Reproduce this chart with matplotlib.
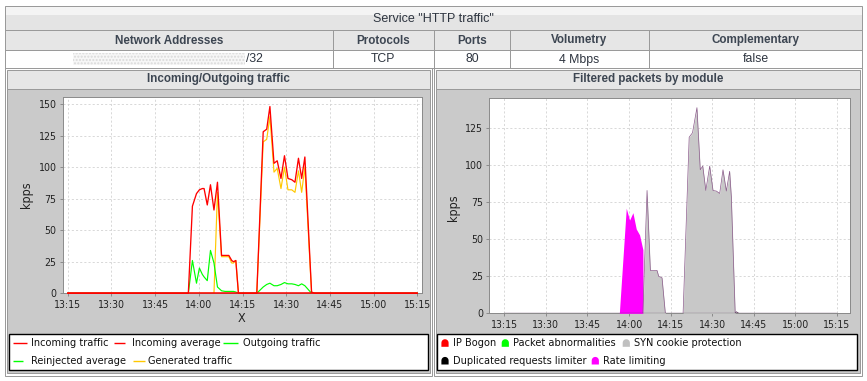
import numpy as np
import matplotlib
matplotlib.use('Agg')
import matplotlib.pyplot as plt
from matplotlib.patches import Rectangle, PathPatch
from matplotlib.path import Path
from matplotlib import font_manager as fm

# ---------------- data ----------------
title = 'Service "HTTP traffic"'
table_headers = ["Network Addresses", "Protocols", "Ports", "Volumetry", "Complementary"]
table_values = ["/32", "TCP", "80", "4 Mbps", "false"]
panel_titles = ["Incoming/Outgoing traffic", "Filtered packets by module"]

tick_minutes = [0, 15, 30, 45, 60, 75, 90, 105, 120]
tick_labels = ["13:15", "13:30", "13:45", "14:00", "14:15", "14:30", "14:45", "15:00", "15:15"]
left_yticks = [0, 25, 50, 75, 100, 125, 150]
right_yticks = [0, 25, 50, 75, 100, 125]

# left chart: minutes after 13:15
io_minutes = [0, 41.4, 42.8, 44.2, 45.2, 46.2, 46.8, 47.9, 49.0, 50.2, 51.4, 52.8, 54.0,
              55.3, 56.3, 56.9, 57.7, 58.6, 64.9, 67.1, 68.3, 69.4, 70.8, 71.9, 73.2,
              74.4, 75.6, 76.9, 78.0, 79.2, 80.3, 81.4, 83.7, 84.8, 120]
incoming_traffic = [0, 0, 69, 79, 82, 83, 83, 70, 86, 66, 88, 30, 30,
                    30, 26, 25, 26, 0, 0, 128, 130, 148, 103, 105, 91,
                    109, 91, 90, 88, 107, 91, 108, 1, 0, 0]
generated_traffic = [0, 0, 0, 0, 0, 0, 0, 0, 0, 0, 80, 29, 29,
                     29, 24, 24, 26, 0, 0, 120, 122, 140, 96, 99, 83,
                     100, 82, 82, 80, 97, 80, 100, 0, 0, 0]
outgoing_traffic = [0, 0, 26, 8, 20, 15, 13, 10, 34, 24, 5, 2, 1.5,
                    1.5, 1.5, 1.5, 1, 0, 0, 5, 7, 8, 6, 6, 7,
                    8.5, 7.5, 7.5, 7, 6, 7.5, 6, 0, 0, 0]
avg_minutes = [0, 120]
incoming_average = [0, 0]
reinjected_average = [0, 0]

# right chart (filtered packets by module)
rate_minutes = [0, 41.5, 44.0, 45.2, 46.4, 47.6, 48.8, 50.0, 50.1, 120]
rate_limiting = [0, 0, 71, 63, 68, 57, 53, 43, 0, 0]
syn_minutes = [0, 50.0, 51.5, 52.7, 53.9, 55.1, 55.7, 56.9, 58.1, 64.5, 66.7, 67.9, 69.5,
               70.7, 71.6, 72.7, 74.1, 75.3, 76.5, 77.7, 78.9, 80.1, 81.3, 81.9, 83.3, 120]
syn_cookie = [0, 0, 83, 29, 29, 29, 25, 24, 0, 0, 119, 122, 139,
              97, 99.5, 83, 99.5, 83, 82.6, 81, 97, 82.6, 96, 79, 0, 0]
dup_minutes = [0, 83.3, 83.7, 84.6, 120]
duplicated_requests = [0, 0, 1, 0, 0]
zero_minutes = [0, 120]
ip_bogon = [0, 0]
packet_abnormalities = [0, 0]

left_legend = [("Incoming traffic", "#ff0000"), ("Incoming average", "#ff0000"),
               ("Outgoing traffic", "#00ff00"), ("Reinjected average", "#00ff00"),
               ("Generated traffic", "#ffc800")]
right_legend = [("IP Bogon", "#ff0000"), ("Packet abnormalities", "#00ff00"),
                ("SYN cookie protection", "#c0c0c0"), ("Duplicated requests limiter", "#000000"),
                ("Rate limiting", "#ff00ff")]

# ---------------- style ----------------
W, H = 867, 381
fig = plt.figure(figsize=(W / 100, H / 100), dpi=100)
fig.patch.set_facecolor('white')

cond_path = fm.findfont(fm.FontProperties(family='DejaVu Sans', stretch='condensed'))
COND = 'condensed' in cond_path.lower()
plt.rcParams['font.family'] = ['DejaVu Sans']
if COND:
    plt.rcParams['font.stretch'] = 'condensed'
    FS_TICK, FS_LEG, FS_LAB = 7.6, 7.8, 9.0
else:
    FS_TICK, FS_LEG, FS_LAB = 7.0, 7.0, 8.5

HEAD_FONT = dict(family=['Liberation Sans', 'DejaVu Sans'], fontstretch='normal',
                 fontsize=8.4, fontweight='bold', color='#3d4652')
TITLE_FONT = dict(family=['Liberation Sans', 'DejaVu Sans'], fontstretch='normal',
                  fontsize=9, color='#2e3540')
VAL_FONT = dict(family=['Liberation Sans', 'DejaVu Sans'], fontstretch='normal',
                fontsize=8.8, color='#2e3540')
PANEL_BG = '#cacaca'
HEAD_BG = '#e6e6e6'
LINE_C = '#9a9a9a'

bg = fig.add_axes([0, 0, 1, 1])
bg.set_xlim(0, W)
bg.set_ylim(H, 0)
bg.axis('off')


def rect(x0, y0, x1, y1, fc='none', ec='none', lw=0.72, z=1, **kw):
    bg.add_patch(Rectangle((x0, y0), x1 - x0, y1 - y0, facecolor=fc, edgecolor=ec,
                           linewidth=lw, zorder=z, **kw))


def hline(x0, x1, y, c=LINE_C, lw=0.72, z=3):
    bg.plot([x0, x1], [y, y], color=c, lw=lw, zorder=z, solid_capstyle='butt')


def vline(x, y0, y1, c=LINE_C, lw=0.72, z=3):
    bg.plot([x, x], [y0, y1], color=c, lw=lw, zorder=z, solid_capstyle='butt')


# ---- top table ----
rect(5, 6, 862, 15, fc='#f4f4f4')
rect(5, 15, 862, 30, fc='#e4e4e4')
rect(5, 30, 862, 50, fc=HEAD_BG)
rect(5, 50, 862, 68, fc='white')
rect(5, 6, 862, 68, ec=LINE_C, z=3)
hline(5, 862, 30)
hline(5, 862, 50)
col_edges = [5, 333.3, 433.5, 510.3, 648.7, 862]
for x in col_edges[1:-1]:
    vline(x, 30, 68)
bg.text(433.5, 18.5, title, ha='center', va='center', **TITLE_FONT)
for i, (hd, val) in enumerate(zip(table_headers, table_values)):
    cx = (col_edges[i] + col_edges[i + 1]) / 2
    bg.text(cx, 40.5, hd, ha='center', va='center', **HEAD_FONT)
    if i == 0:
        rect(73, 53, 245, 65, fc='#f7f7f7', ec='#dadada', lw=0, hatch='.....', z=2)
        bg.text(246.5, 59.5, val, ha='left', va='center', **VAL_FONT)
    else:
        bg.text(cx, 59.5, val, ha='center', va='center', **VAL_FONT)

# ---- panels ----
panels = [(5, 431.5), (433.7, 862)]
for (x0, x1), pt in zip(panels, panel_titles):
    rect(x0, 68, x1, 375.5, fc='white', ec=LINE_C, z=1)
    rect(x0 + 2.3, 70, x1 - 2, 88.5, fc=HEAD_BG, ec=LINE_C, z=1.5)
    rect(x0 + 2.3, 88.5, x1 - 2, 373, fc=PANEL_BG, ec=LINE_C, z=1.5)
    bg.text((x0 + x1) / 2, 79, pt, ha='center', va='center', **HEAD_FONT)

# legend boxes
rect(9.3, 334.3, 428.3, 370, fc='white', ec='black', lw=1.0, z=2)
rect(436.7, 334.3, 856.7, 370, fc='white', ec='black', lw=1.0, z=2)

# left legend entries
left_leg_pos = [(13.3, 26.7, 31, 343.3), (114.3, 125, 132.3, 343.3), (223.3, 238.3, 242.7, 343.3),
                (13.3, 23.3, 31, 361), (133.3, 145, 148.3, 361)]
for (lab, col), (lx0, lx1, tx, ty) in zip(left_legend, left_leg_pos):
    bg.plot([lx0, lx1], [ty, ty], color=col, lw=1.0, zorder=4, solid_capstyle='butt')
    bg.text(tx, ty, lab, ha='left', va='center', fontsize=FS_LEG, color='#111111', zorder=4)


# right legend entries (rounded-top icons)
def icon(cx, cy, col):
    r = 3.6
    ang = np.linspace(0, np.pi, 12)
    verts = [(cx - r, cy + 4), (cx + r, cy + 4), (cx + r, cy)]
    verts += [(cx + r * np.cos(a), cy - r * np.sin(a)) for a in ang[1:]]
    verts += [(cx - r, cy + 4)]
    codes = [Path.MOVETO] + [Path.LINETO] * (len(verts) - 2) + [Path.CLOSEPOLY]
    bg.add_patch(PathPatch(Path(verts, codes), facecolor=col, edgecolor='none', zorder=4))


right_leg_pos = [(445, 453.3, 343.3), (505.3, 513.3, 343.3), (626.3, 634, 343.3),
                 (445, 453.3, 361), (595.3, 603.3, 361)]
for (lab, col), (ix, tx, ty) in zip(right_legend, right_leg_pos):
    icon(ix, ty - 0.5, col)
    bg.text(tx, ty, lab, ha='left', va='center', fontsize=FS_LEG, color='#111111', zorder=4)

# axis labels
bg.text(26.7, 195, 'kpps', rotation=90, ha='center', va='center', fontsize=FS_LAB, color='#222222', zorder=4)
bg.text(453.7, 208, 'kpps', rotation=90, ha='center', va='center', fontsize=FS_LAB, color='#222222', zorder=4)
bg.text(241.5, 319, 'X', ha='center', va='center', fontsize=FS_LAB, color='#222222', zorder=4)


# ---------------- charts ----------------
def px_axes(x0, y0, x1, y1):
    return fig.add_axes([x0 / W, 1 - y1 / H, (x1 - x0) / W, (y1 - y0) / H])


def style_axes(ax, yticks):
    ax.set_facecolor('white')
    ax.set_axisbelow(True)
    ax.grid(True, color='#d2d2d2', linestyle=(0, (2.5, 2.5)), linewidth=0.6)
    ax.set_xticks(tick_minutes, tick_labels)
    ax.set_yticks(yticks)
    ax.tick_params(direction='out', length=2.5, width=0.6, color='#808080',
                   labelsize=FS_TICK, labelcolor='#222222', pad=2)
    for s in ax.spines.values():
        s.set_color('#8a8a8a')
        s.set_linewidth(0.7)
        s.set_zorder(1.5)


ax1 = px_axes(62.7, 97.3, 421.7, 293.3)
ax1.set_xlim(-1.72, 121.5)
ax1.set_ylim(0, 155.3)
style_axes(ax1, left_yticks)
ax1.plot(io_minutes, generated_traffic, color='#ffc800', lw=0.85, zorder=3)
ax1.plot(avg_minutes, reinjected_average, color='#00ff00', lw=0.85, zorder=3)
ax1.plot(io_minutes, outgoing_traffic, color='#00ff00', lw=0.85, zorder=3)
ax1.plot(avg_minutes, incoming_average, color='#ff0000', lw=1.1, clip_on=False, zorder=4)
ax1.plot(io_minutes, incoming_traffic, color='#ff0000', lw=0.95, clip_on=False, zorder=4)

ax2 = px_axes(489.5, 97.7, 850.5, 313.3)
ax2.set_xlim(-5.34, 124.9)
ax2.set_ylim(0, 145.7)
style_axes(ax2, right_yticks)
ax2.fill_between(zero_minutes, ip_bogon, color='#ff0000', lw=0, zorder=2)
ax2.fill_between(zero_minutes, packet_abnormalities, color='#00ff00', lw=0, zorder=2)
ax2.fill_between(rate_minutes, rate_limiting, color='#ff00ff', lw=0, zorder=2)
ax2.fill_between(syn_minutes, syn_cookie, color='#c8c8c8', lw=0, zorder=2)
ax2.plot(syn_minutes, syn_cookie, color='#8a5a8a', lw=0.5, zorder=3)
ax2.plot(dup_minutes, duplicated_requests, color='#5a3a5a', lw=0.6, zorder=3)

fig.savefig('out.png', dpi=100, facecolor='white')
